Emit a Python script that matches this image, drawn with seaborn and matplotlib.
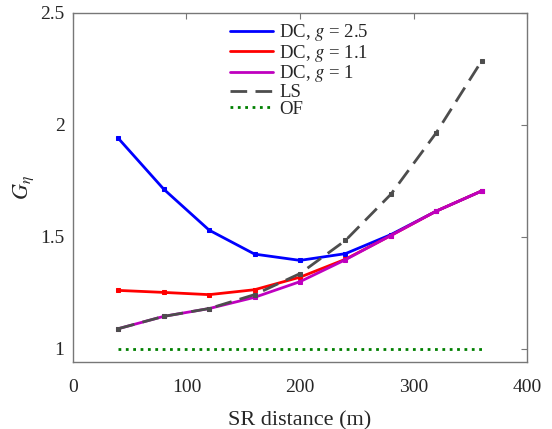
import numpy as np
import pandas as pd
import seaborn as sns
import matplotlib
matplotlib.use("Agg")
import matplotlib.pyplot as plt

# data
distance = [40, 80, 120, 160, 200, 240, 280, 320, 360]
dc_g25 = [1.94, 1.713, 1.53, 1.423, 1.395, 1.425, 1.51, 1.615, 1.705]
dc_g11 = [1.261, 1.252, 1.242, 1.264, 1.32, 1.40, 1.506, 1.615, 1.705]
dc_g1 = [1.09, 1.145, 1.18, 1.23, 1.30, 1.398, 1.506, 1.615, 1.705]
ls = [1.09, 1.145, 1.18, 1.242, 1.336, 1.484, 1.69, 1.965, 2.286]
of = [1.0] * len(distance)

sns.set_style("white")
plt.rcParams['font.family'] = ['Liberation Serif', 'DejaVu Serif']
plt.rcParams['mathtext.fontset'] = 'stix'

fig = plt.figure(figsize=(5.52, 4.29), dpi=100)
ax = fig.add_axes([0.132, 0.1555, 0.823, 0.8145])

sns.lineplot(x=distance, y=dc_g25, ax=ax, color='#0000ff', lw=2, marker='s', ms=3, mec='#0000ff', label='DC, $g$ = 2.5')
sns.lineplot(x=distance, y=dc_g11, ax=ax, color='#ff0000', lw=2, marker='s', ms=3, mec='#ff0000', label='DC, $g$ = 1.1')
sns.lineplot(x=distance, y=dc_g1, ax=ax, color='#bf00bf', lw=2, marker='s', ms=3, mec='#bf00bf', label='DC, $g$ = 1')
sns.lineplot(x=distance, y=ls, ax=ax, color='#4d4d4d', lw=2, marker='s', ms=3, mec='#4d4d4d', label='LS')
ax.lines[-1].set_dashes([6, 3])
sns.lineplot(x=distance, y=of, ax=ax, color='#008000', lw=2, ls=':', label='OF')

ax.set_xlim(0, 400)
ax.set_ylim(0.94, 2.5)
ax.set_xticks([0, 100, 200, 300, 400])
ax.set_yticks([1, 1.5, 2, 2.5])
ax.set_yticklabels(['1', '1.5', '2', '2.5'])
ax.tick_params(direction='in', length=4, top=True, right=True, labelsize=14, color='#777777')
ax.tick_params(axis='x', pad=12)
ax.tick_params(axis='y', pad=6)
for s in ax.spines.values():
    s.set_color('#777777')
    s.set_linewidth(1)
ax.set_xlabel('SR distance (m)', fontsize=16, labelpad=11)
ax.set_ylabel(r'$G_\eta$', fontsize=16, labelpad=3)

leg = ax.legend(loc='upper left', bbox_to_anchor=(0.33, 0.995), frameon=False, fontsize=13.5,
                labelspacing=-0.02, handlelength=2.3, handletextpad=0.3, borderaxespad=0)
for h in leg.get_lines():
    h.set_marker('')

fig.savefig('out.png', dpi=100)
